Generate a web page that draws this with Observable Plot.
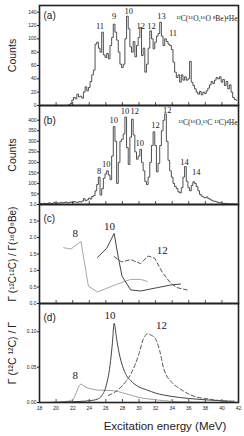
<!DOCTYPE html>
<html><head><meta charset="utf-8">
<script src="https://cdn.jsdelivr.net/npm/d3@7"></script>
<script src="https://cdn.jsdelivr.net/npm/@observablehq/plot@0.6"></script>
<style>
body{margin:0;background:#fff;}
#chart{width:244px;height:436px;position:relative;overflow:hidden;background:#fff}
#chart svg{display:block;overflow:visible}
#xtitle{position:absolute;left:86px;top:420px;width:158px;text-align:center;font:11.5px "Liberation Sans",Arial,sans-serif;color:#222;white-space:nowrap}
</style></head><body>
<div id="chart"><div id="panels"></div><div id="xtitle">Excitation energy (MeV)</div></div>
<script>
// ---- data ----
const binEnergy = [
 18.0,18.2,18.4,18.6,18.8,19.0,19.2,19.4,19.6,19.8,
 20.0,20.2,20.4,20.6,20.8,21.0,21.2,21.4,21.6,21.8,
 22.0,22.2,22.4,22.6,22.8,23.0,23.2,23.4,23.6,23.8,
 24.0,24.2,24.4,24.6,24.8,25.0,25.2,25.4,25.6,25.8,
 26.0,26.2,26.4,26.6,26.8,27.0,27.2,27.4,27.6,27.8,
 28.0,28.2,28.4,28.6,28.8,29.0,29.2,29.4,29.6,29.8,
 30.0,30.2,30.4,30.6,30.8,31.0,31.2,31.4,31.6,31.8,
 32.0,32.2,32.4,32.6,32.8,33.0,33.2,33.4,33.6,33.8,
 34.0,34.2,34.4,34.6,34.8,35.0,35.2,35.4,35.6,35.8,
 36.0,36.2,36.4,36.6,36.8,37.0,37.2,37.4,37.6,37.8,
 38.0,38.2,38.4,38.6,38.8,39.0,39.2,39.4,39.6,39.8,
 40.0,40.2,40.4,40.6,40.8,41.0,41.2,41.4,41.6,41.8];
const countsA = [
 0,0,0,0,0,0,0,0,0,0,
 0,0,0,0,0,0,0,0,1,3,
 8,12,10,17,13,14,11,20,28,22,
 27,36,46,53,92,95,86,80,110,76,
 72,78,70,90,102,122,110,98,80,62,
 57,62,100,134,115,88,80,96,73,90,
 102,117,75,86,50,62,86,112,100,85,
 95,104,108,125,104,90,100,96,92,90,
 84,65,50,42,46,35,46,38,43,38,
 40,66,35,30,25,20,17,21,16,20,
 18,22,26,31,36,33,38,42,40,43,
 35,39,30,36,25,31,20,12,9,8];
const countsB = [
 3,5,2,6,4,5,8,4,6,9,
 5,8,6,10,7,9,12,8,10,12,
 9,14,11,10,13,12,16,28,18,22,
 30,26,38,42,65,95,130,45,75,125,
 145,160,140,118,230,370,300,100,200,300,
 310,335,415,270,190,320,405,330,250,215,
 230,262,200,160,110,95,130,200,280,345,
 280,155,195,280,350,400,430,300,210,160,
 130,100,85,75,60,55,80,130,180,110,
 80,65,90,108,100,85,65,48,40,35,
 32,36,28,25,20,16,15,12,10,8,
 7,5,5,4,3,3,2,3,2,2];

const peakA_E = [25.3, 27.0, 28.75, 30.2, 31.5, 32.7, 34.1];
const peakA_y = [119, 134, 142, 119, 119, 134, 109];
const peakA_t = ["11","9","10","12","12","13","11"];
const peakB_E = [25.2, 26.05, 26.95, 28.3, 29.5, 30.1, 32.0, 33.4, 35.5, 36.9];
const peakB_y = [157, 189, 399, 442, 442, 291, 375, 446, 201, 153];
const peakB_t = ["8","10","10","10","12","10","12","12","14","14"];

// panel (c): Γ(12C12C)/Γ(16O 8Be)
const c8_E  = [20.9, 21.8, 23.0, 23.9, 25.0, 27.3, 29.0, 30.2, 31.0];
const c8_y  = [1.69, 1.65, 1.88, 0.52, 0.35, 0.58, 0.73, 0.73, 0.67];
const c10_E = [25.0, 26.1, 27.0, 27.5, 27.95, 29.0, 30.2, 32.2, 33.8, 35.0];
const c10_y = [1.40, 1.67, 2.12, 1.40, 0.83, 0.41, 0.38, 0.48, 0.56, 0.59];
const c12_E = [27.0, 27.9, 29.0, 30.2, 31.1, 31.9, 32.8, 33.8, 34.6, 35.8];
const c12_y = [1.42, 1.26, 1.33, 1.21, 1.44, 1.37, 0.95, 0.62, 0.48, 0.41];

// panel (d): Γ(12C12C)/Γ
const d8_E  = [18.5, 20.0, 21.0, 21.5, 22.0, 22.3, 22.6, 23.0, 23.5, 24.0, 25.0, 26.0, 27.0, 28.0, 29.0, 30.0, 31.0, 32.0, 33.0, 34.0, 36.0, 38.0];
const d8_y  = [0, 0.0003, 0.001, 0.002, 0.004, 0.0095, 0.019, 0.026, 0.022, 0.020, 0.0176, 0.0172, 0.0165, 0.0138, 0.0105, 0.0072, 0.0053, 0.0038, 0.0026, 0.0016, 0.0006, 0.0002];
const d10_E = [19.0, 20.0, 21.0, 22.0, 23.0, 24.0, 25.0, 25.5, 26.0, 26.5, 26.8, 27.0, 27.3, 27.6, 28.0, 28.5, 29.0, 30.0, 31.0, 32.0, 33.0, 34.0, 36.0, 38.0, 40.0, 41.5];
const d10_y = [0, 0.0004, 0.0007, 0.001, 0.0016, 0.0025, 0.0048, 0.0095, 0.022, 0.052, 0.085, 0.112, 0.090, 0.070, 0.052, 0.038, 0.031, 0.022, 0.0176, 0.0133, 0.0105, 0.0085, 0.0057, 0.0038, 0.0024, 0.0018];
const d12_E = [26.3, 27.0, 28.0, 29.0, 30.0, 30.5, 31.0, 31.5, 32.0, 32.5, 33.0, 34.0, 35.0, 36.0, 37.0, 38.0, 39.0, 40.0, 41.0];
const d12_y = [0.010, 0.014, 0.024, 0.040, 0.069, 0.089, 0.097, 0.095, 0.090, 0.073, 0.047, 0.028, 0.019, 0.012, 0.0075, 0.0057, 0.0038, 0.0024, 0.001];

const labC_E = [22.3, 26.45, 32.8];
const labC_y = [2.11, 2.34, 1.6];
const labD_E = [22.3, 26.5, 32.7];
const labD_y = [0.038, 0.123, 0.109];
const curveLabels = ["8", "10", "12"];

const xTicks = [18,20,22,24,26,28,30,32,34,36,38,40,42];
const yTicksA = [0,20,40,60,80,100,120,140];
const yTicksB = [50,100,150,200,250,300,350,400];
const yTicksC = [0,0.5,1,1.5,2,2.5,3];
const yTicksD = [0,0.05,0.10];

const reactionA = "¹²C(¹⁶O,¹⁶O ⁸Be)⁴He";
const reactionB = "¹²C(¹⁶O,¹²C ¹²C)⁴He";
const titleC = "Γ (¹²C¹²C) / Γ(¹⁶O⁸Be)";
const titleD = "Γ (¹²C ¹²C) / Γ";

// ---- helpers ----
const zip = (xs, ys, ts) => xs.map((x, i) => ({E: x, y: ys[i], t: ts ? ts[i] : null}));
const serif = "Liberation Serif, Times New Roman, serif";
const sans = "Liberation Sans, Arial, sans-serif";
const ink = "#222";
const common = {
  width: 244, marginLeft: 39, marginRight: 6,
  x: {domain: [18, 42], axis: null},
  style: {fontFamily: sans, fontSize: "5px", color: ink, background: "transparent", overflow: "visible"}
};
function frameMarks(yTicks, yFmt, innerH, panel, dyPanel, title, titleSize) {
  return [
    Plot.axisY({ticks: yTicks, tickSize: 2, tickPadding: 1, label: null, fontSize: 5, tickFormat: yFmt}),
    Plot.tickX(xTicks, {x: d => d, insetTop: innerH - 3, stroke: ink, strokeWidth: 0.8}),
    Plot.text([panel], {text: d => d, frameAnchor: "top-left", dx: 4, dy: dyPanel, textAnchor: "start", lineAnchor: "middle", fontFamily: sans, fontSize: 10, fill: ink}),
    Plot.text([title], {text: d => d, frameAnchor: "left", dx: -27, rotate: -90, textAnchor: "middle", lineAnchor: "middle", fontFamily: sans, fontSize: titleSize, fill: ink}),
  ];
}

const dataA = binEnergy.map((e, i) => ({E: e, c: countsA[i]}));
const dataB = binEnergy.map((e, i) => ({E: e, c: countsB[i]}));

const panels = document.getElementById("panels");

// (a)
panels.append(Plot.plot({...common, height: 105, marginTop: 5, marginBottom: 0,
  y: {domain: [0, 150]},
  marks: [
    ...frameMarks(yTicksA, d3.format("d"), 100, "(a)", 10, "Counts", 10.5),
    Plot.line(dataA, {x: "E", y: "c", curve: "step", stroke: "#3c3c3c", strokeWidth: 0.9}),
    Plot.text(zip(peakA_E, peakA_y, peakA_t), {x: "E", y: "y", text: "t", fontFamily: serif, fontSize: 8.5, fill: ink}),
    Plot.text([reactionA], {text: d => d, frameAnchor: "top-right", dx: -1, dy: 13, textAnchor: "end", lineAnchor: "middle", fontFamily: serif, fontSize: 7.5, fill: ink}),
    Plot.frame({stroke: ink, strokeWidth: 1.6})
  ]}));

// (b)
panels.append(Plot.plot({...common, height: 99, marginTop: 0, marginBottom: 0,
  y: {domain: [0, 470]},
  marks: [
    ...frameMarks(yTicksB, d3.format("d"), 99, "(b)", 15, "Counts", 10.5),
    Plot.line(dataB, {x: "E", y: "c", curve: "step", stroke: "#3c3c3c", strokeWidth: 0.9}),
    Plot.text(zip(peakB_E, peakB_y, peakB_t), {x: "E", y: "y", text: "t", fontFamily: serif, fontSize: 8.5, fill: ink}),
    Plot.text([reactionB], {text: d => d, frameAnchor: "top-right", dx: -1, dy: 17, textAnchor: "end", lineAnchor: "middle", fontFamily: serif, fontSize: 7.5, fill: ink}),
    Plot.frame({stroke: ink, strokeWidth: 1.6})
  ]}));

// (c)
panels.append(Plot.plot({...common, height: 99, marginTop: 0, marginBottom: 0,
  y: {domain: [0, 3]},
  marks: [
    ...frameMarks(yTicksC, d3.format(".1f"), 99, "(c)", 14, titleC, 10),
    Plot.line(zip(c8_E, c8_y), {x: "E", y: "y", stroke: "#a8a8a8", strokeWidth: 1}),
    Plot.line(zip(c10_E, c10_y), {x: "E", y: "y", stroke: "#444", strokeWidth: 1}),
    Plot.line(zip(c12_E, c12_y), {x: "E", y: "y", stroke: "#555", strokeWidth: 1, strokeDasharray: "4,2.5"}),
    Plot.text(zip(labC_E, labC_y, curveLabels), {x: "E", y: "y", text: "t", fontFamily: serif, fontSize: 11, fill: ink}),
    Plot.frame({stroke: ink, strokeWidth: 1.6})
  ]}));

// (d)
panels.append(Plot.plot({...common, height: 113, marginTop: 0, marginBottom: 14,
  y: {domain: [0, 0.14]},
  marks: [
    ...frameMarks(yTicksD, d3.format(".2f"), 99, "(d)", 14, titleD, 10.5),
    Plot.axisX({ticks: xTicks, tickSize: 0, tickPadding: 4, label: null, fontSize: 5, tickFormat: d3.format("d")}),
    Plot.line(zip(d8_E, d8_y), {x: "E", y: "y", curve: "monotone-x", stroke: "#a0a0a0", strokeWidth: 1}),
    Plot.line(zip(d10_E, d10_y), {x: "E", y: "y", curve: "monotone-x", stroke: "#444", strokeWidth: 1}),
    Plot.line(zip(d12_E, d12_y), {x: "E", y: "y", curve: "monotone-x", stroke: "#555", strokeWidth: 1, strokeDasharray: "4,2.5"}),
    Plot.text(zip(labD_E, labD_y, curveLabels), {x: "E", y: "y", text: "t", fontFamily: serif, fontSize: 11, fill: ink}),
    Plot.frame({stroke: ink, strokeWidth: 1.6})
  ]}));
</script>
</body></html>
